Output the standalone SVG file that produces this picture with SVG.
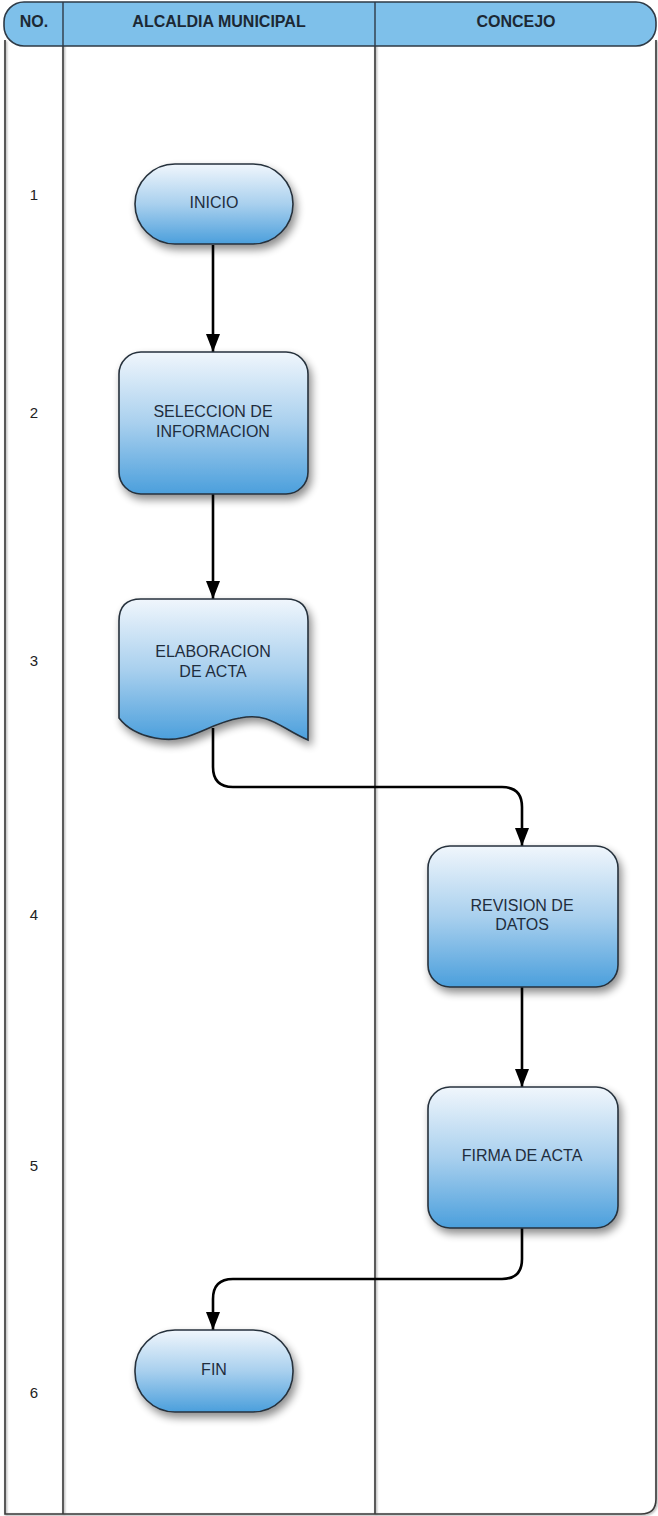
<svg xmlns="http://www.w3.org/2000/svg" width="658" height="1516" viewBox="0 0 658 1516">
<defs>
<linearGradient id="nodeGrad" x1="0" y1="0" x2="0" y2="1">
<stop offset="0" stop-color="#f0f6fc"/>
<stop offset="0.5" stop-color="#a9d0ee"/>
<stop offset="1" stop-color="#4b9fdc"/>
</linearGradient>
<filter id="shadow" x="-20%" y="-20%" width="150%" height="150%">
<feGaussianBlur in="SourceAlpha" stdDeviation="4"/>
<feOffset dx="3" dy="5" result="b"/>
<feComponentTransfer><feFuncA type="linear" slope="0.45"/></feComponentTransfer>
<feMerge><feMergeNode/><feMergeNode in="SourceGraphic"/></feMerge>
</filter>
<filter id="lshadow" x="-50%" y="-5%" width="200%" height="110%">
<feGaussianBlur in="SourceAlpha" stdDeviation="1.2"/>
<feOffset dx="1" dy="1"/>
<feComponentTransfer><feFuncA type="linear" slope="0.4"/></feComponentTransfer>
<feMerge><feMergeNode/><feMergeNode in="SourceGraphic"/></feMerge>
</filter>
<marker id="arrow" viewBox="0 0 18 14" refX="18" refY="7" markerWidth="18" markerHeight="14" markerUnits="userSpaceOnUse" orient="auto">
<path d="M0,0 L18,7 L0,14 Z" fill="#000"/>
</marker>
</defs>
<style>
.lane{fill:none;stroke:#3a3a3a;stroke-width:1.6}
.hdr{fill:#7ec0ea;stroke:#2e3a46;stroke-width:1.6}
.htxt{font-family:"Liberation Sans",Arial,sans-serif;font-weight:bold;font-size:16px;fill:#1c2834;text-anchor:middle}
.num{font-family:"Liberation Sans",Arial,sans-serif;font-size:15px;fill:#222;text-anchor:middle}
.node{fill:url(#nodeGrad);stroke:#26313c;stroke-width:1.6;filter:url(#shadow)}
.ntxt{font-family:"Liberation Sans",Arial,sans-serif;font-size:16px;fill:#1f2d3d;text-anchor:middle}
.conn{fill:none;stroke:#000;stroke-width:2.6;marker-end:url(#arrow)}
</style>
<rect width="658" height="1516" fill="#fff"/>
<g id="pool" filter="url(#lshadow)">
<path class="lane" d="M5,40 L5,1514 L641,1514 Q656,1514 656,1499 L656,40"/>
<line class="lane" x1="63" y1="2" x2="63" y2="1514"/>
<line class="lane" x1="375" y1="2" x2="375" y2="1514"/>
</g>
<g id="header">
<rect class="hdr" x="4" y="2" width="652" height="44" rx="20" ry="20"/>
<line x1="63" y1="2" x2="63" y2="46" stroke="#2e3a46" stroke-width="1.4"/>
<line x1="375" y1="2" x2="375" y2="46" stroke="#2e3a46" stroke-width="1.4"/>
<text class="htxt" x="34" y="27">NO.</text>
<text class="htxt" x="219" y="27">ALCALDIA MUNICIPAL</text>
<text class="htxt" x="516" y="27">CONCEJO</text>
</g>
<g id="numbers">
<text class="num" x="34" y="200">1</text>
<text class="num" x="34" y="418">2</text>
<text class="num" x="34" y="666">3</text>
<text class="num" x="34" y="920">4</text>
<text class="num" x="34" y="1171">5</text>
<text class="num" x="34" y="1398">6</text>
</g>
<g id="connectors">
<path class="conn" d="M213,245 L213,352"/>
<path class="conn" d="M213,494 L213,599"/>
<path class="conn" d="M213,728 L213,767 Q213,787 233,787 L502,787 Q522,787 522,807 L522,846"/>
<path class="conn" d="M522,987 L522,1087"/>
<path class="conn" d="M522,1228 L522,1259 Q522,1279 502,1279 L233,1279 Q213,1279 213,1299 L213,1330"/>
</g>
<g id="n1">
<rect class="node" x="135" y="164" width="158" height="80" rx="40" ry="40"/>
<text class="ntxt" x="214" y="208">INICIO</text>
</g>
<g id="n2">
<rect class="node" x="119" y="352" width="189" height="142" rx="22" ry="22"/>
<text class="ntxt" x="213" y="417">SELECCION DE</text>
<text class="ntxt" x="213" y="437">INFORMACION</text>
</g>
<g id="n3">
<path class="node" d="M141,599 L286,599 Q308,599 308,621 L308,740 C280,728 270,712 240,718 C205,724 190,745 155,738 C135,734 125,726 119,718 L119,621 Q119,599 141,599 Z"/>
<text class="ntxt" x="213" y="657">ELABORACION</text>
<text class="ntxt" x="213" y="677">DE ACTA</text>
</g>
<g id="n4">
<rect class="node" x="428" y="846" width="190" height="141" rx="22" ry="22"/>
<text class="ntxt" x="522" y="911">REVISION DE</text>
<text class="ntxt" x="522" y="930">DATOS</text>
</g>
<g id="n5">
<rect class="node" x="428" y="1087" width="190" height="141" rx="22" ry="22"/>
<text class="ntxt" x="522" y="1161">FIRMA DE ACTA</text>
</g>
<g id="n6">
<rect class="node" x="135" y="1330" width="158" height="82" rx="40" ry="40"/>
<text class="ntxt" x="214" y="1375">FIN</text>
</g>
</svg>
